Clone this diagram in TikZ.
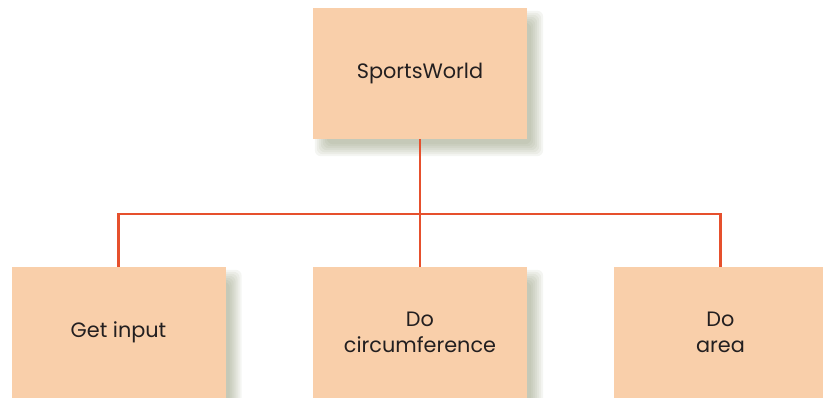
\documentclass[tikz,border=0pt]{standalone}
\usepackage{fontspec}
\setmainfont{Poppins}
\definecolor{boxfill}{RGB}{249,207,170}
\definecolor{linecol}{RGB}{230,80,45}
\definecolor{textcol}{RGB}{35,31,32}
\definecolor{shadowcol}{RGB}{120,130,90}
\tikzset{
  x=1pt, y=-1pt,
  modbox/.style={fill=boxfill, draw=none, minimum width=214pt, minimum height=131pt,
    inner sep=0pt, align=center, text=textcol,
    font=\fontsize{20.8}{26}\selectfont},
  conn/.style={draw=linecol, line width=2.5pt},
}
\newcommand{\softshadow}[1]{%
  \foreach \e in {-7,-5,-3,-1,1,3,5}{%
    \fill[shadowcol, opacity=0.08, rounded corners=6pt]
      ([xshift=9pt+\e pt, yshift=-10pt-\e pt]#1.north west) rectangle
      ([xshift=9pt-\e pt, yshift=-10pt+\e pt]#1.south east);
  }%
}
\begin{document}
\begin{tikzpicture}
\useasboundingbox (0,0) rectangle (823,398);
\clip (0,0) rectangle (823,398);
\node[modbox] (top) at (420,73.5) {};
\node[modbox] (left) at (118.5,332.5) {};
\node[modbox] (mid) at (420,332.5) {};
\node[modbox] (right) at (720.5,332.5) {};
\softshadow{top}
\softshadow{left}
\softshadow{mid}
\softshadow{right}
\node[modbox] at (top) {SportsWorld};
\node[modbox] at (left) {Get input};
\node[modbox] at (mid) {Do\\circumference};
\node[modbox] at (right) {Do\\area};
\coordinate (bar) at (0,214);
\draw[conn] (top.south) -- (top.south |- bar);
\draw[conn] (mid.north) -- (mid.north |- bar);
\draw[conn] (left.north) -- (left.north |- bar) -- (right.north |- bar) -- (right.north);
\end{tikzpicture}
\end{document}
